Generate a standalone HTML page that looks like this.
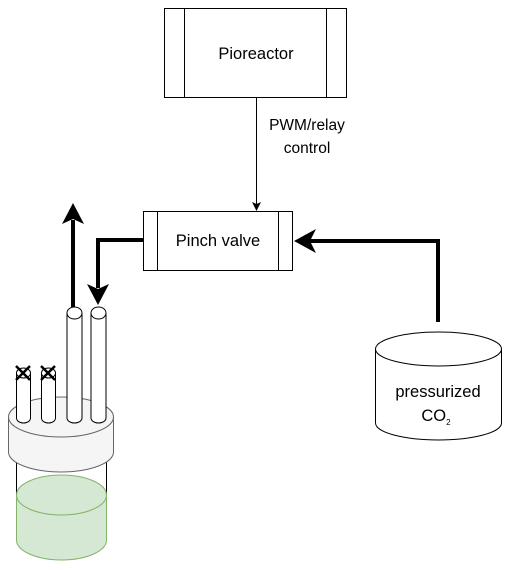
<!DOCTYPE html>
<html><head><style>html,body{margin:0;padding:0;background:#fff;}svg{display:block}</style></head>
<body>
<svg width="512" height="570" viewBox="0 0 512 570" xmlns="http://www.w3.org/2000/svg" font-family="Liberation Sans, Helvetica, sans-serif">
<!-- Pioreactor -->
<rect x="164.5" y="8.5" width="182" height="89" fill="#fff" stroke="#000"/>
<line x1="184.5" y1="8.5" x2="184.5" y2="97.5" stroke="#000"/>
<line x1="326.5" y1="8.5" x2="326.5" y2="97.5" stroke="#000"/>
<text x="256" y="59" font-size="16.5" text-anchor="middle">Pioreactor</text>
<!-- control connector -->
<line x1="256.5" y1="97.5" x2="256.5" y2="204" stroke="#000"/>
<path d="M252 202 L256.5 211 L261 202 L256.5 204 Z" fill="#000"/>
<text x="307" y="130" font-size="15.5" text-anchor="middle">PWM/relay</text>
<text x="307" y="153" font-size="15.5" text-anchor="middle">control</text>
<!-- Pinch valve -->
<rect x="143.5" y="211.5" width="149" height="59" fill="#fff" stroke="#000"/>
<line x1="157.5" y1="211.5" x2="157.5" y2="270.5" stroke="#000"/>
<line x1="278.5" y1="211.5" x2="278.5" y2="270.5" stroke="#000"/>
<text x="218" y="246" font-size="16.5" text-anchor="middle">Pinch valve</text>
<!-- CO2 line -->
<path d="M438 322 L438 241 L310 241" fill="none" stroke="#000" stroke-width="4"/>
<path d="M294 241 L316 229 L310 241 L316 253 Z" fill="#000"/>
<!-- valve to tube line -->
<path d="M143 240 L98 240 L98 288" fill="none" stroke="#000" stroke-width="4"/>
<path d="M98 305 L87 284 L98 289 L109 284 Z" fill="#000"/>
<!-- up arrow -->
<line x1="73" y1="307" x2="73" y2="220" stroke="#000" stroke-width="4"/>
<path d="M73 203 L62 224 L73 219 L84 224 Z" fill="#000"/>
<!-- CO2 cylinder -->
<path d="M375.5 349 L375.5 423 A63 17 0 0 0 501.5 423 L501.5 349" fill="#fff" stroke="#000"/>
<ellipse cx="438.5" cy="349" rx="63" ry="17" fill="#fff" stroke="#000"/>
<text x="438" y="397" font-size="16.5" text-anchor="middle">pressurized</text>
<text x="436" y="421" font-size="16.5" text-anchor="middle">CO<tspan font-size="8" dy="4">2</tspan></text>
<!-- jar -->
<line x1="16.5" y1="450" x2="16.5" y2="540" stroke="#000"/>
<line x1="106.5" y1="450" x2="106.5" y2="540" stroke="#000"/>
<path d="M16.5 495 L16.5 540 A45 20 0 0 0 106.5 540 L106.5 495" fill="#d5e8d4" stroke="#82b366"/>
<ellipse cx="61.5" cy="495" rx="45" ry="20" fill="#d5e8d4" stroke="#82b366"/>
<!-- lid -->
<path d="M8.5 417 L8.5 452 A52.5 20 0 0 0 113.5 452 L113.5 417" fill="#f5f5f5" stroke="#666"/>
<ellipse cx="61" cy="417" rx="52.5" ry="20" fill="#f5f5f5" stroke="#666"/>
<!-- tubes -->
<g fill="#fff" stroke="#000">
<path d="M16.5 373 L16.5 418 A7 5 0 0 0 30.5 418 L30.5 373 Z"/>
<ellipse cx="23.5" cy="373" rx="7" ry="5"/>
<path d="M41.5 373 L41.5 418 A7 5 0 0 0 55.5 418 L55.5 373 Z"/>
<ellipse cx="48.5" cy="373" rx="7" ry="5"/>
<path d="M67 313 L67 418 A7.5 5 0 0 0 82 418 L82 313 Z"/>
<ellipse cx="74.5" cy="313" rx="7.5" ry="6"/>
<path d="M91 313 L91 418 A7.5 5 0 0 0 106 418 L106 313 Z"/>
<ellipse cx="98.5" cy="313" rx="7.5" ry="6"/>
</g>
<!-- X marks -->
<g stroke="#000" stroke-width="2.5">
<line x1="16" y1="366" x2="30" y2="380"/><line x1="30" y1="366" x2="16" y2="380"/>
<line x1="41" y1="366" x2="55" y2="380"/><line x1="55" y1="366" x2="41" y2="380"/>
</g>
</svg>
</body></html>
